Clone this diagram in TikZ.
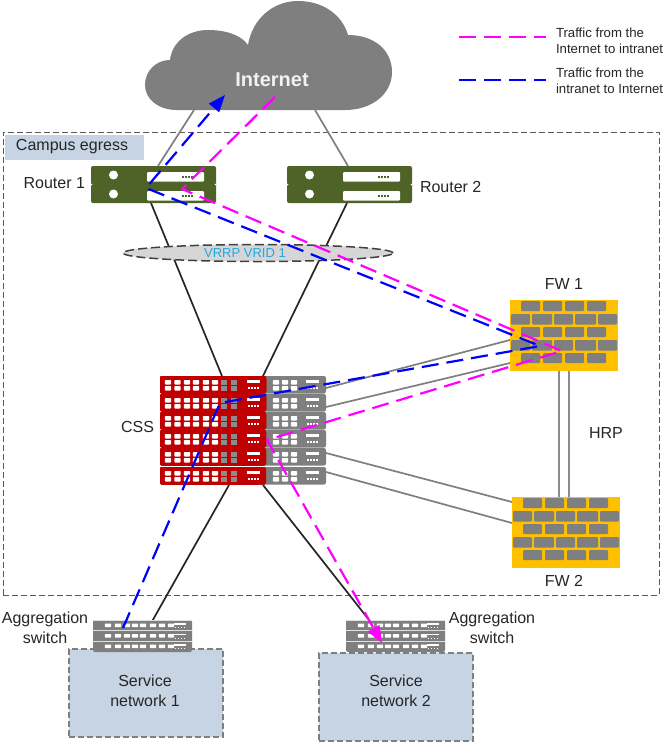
\documentclass[tikz,border=0pt]{standalone}
\usepackage{fontspec}
\setmainfont{Liberation Sans}
\usetikzlibrary{arrows.meta,shapes.geometric}
\definecolor{cloudgray}{HTML}{7F7F7F}
\definecolor{routergreen}{HTML}{4F6228}
\definecolor{cssred}{HTML}{C00000}
\definecolor{fwyellow}{HTML}{FFC000}
\definecolor{areablue}{HTML}{C6D4E4}
\definecolor{vrrpblue}{HTML}{1FA9E1}
\definecolor{trafficin}{HTML}{FF00FF}
\definecolor{trafficout}{HTML}{0000FF}
\definecolor{linedark}{HTML}{262626}
\tikzset{
  every node/.style={inner sep=0pt,outer sep=0pt},
  label14/.style={font=\fontsize{16}{19.5}\selectfont,align=center,text=black!85},
  legendtext/.style={font=\fontsize{13.2}{16}\selectfont,align=left,anchor=west,text=black!85},
  graylink/.style={draw=cloudgray,line width=1.7pt},
  darklink/.style={draw=linedark,line width=1.7pt},
  areabox/.style={draw=cloudgray,dash pattern=on 6pt off 3pt,line width=1.6pt,fill=areablue},
  innet/.style={draw=trafficin,line width=2.2pt,dash pattern=on 17pt off 8pt},
  outnet/.style={draw=trafficout,line width=2.2pt,dash pattern=on 17pt off 8pt},
  bighead/.style={-{Triangle[length=17pt,width=13pt]}},
  brick/.style={fill=cloudgray,rounded corners=1pt},
}
% Two-unit router chassis; #1 node name, #2 left edge, #3 top edge
\newcommand{\RouterBox}[3]{
  \node[rectangle,fill=routergreen,rounded corners=2pt,minimum width=125pt,minimum height=37pt,anchor=north west] (#1) at (#2,#3) {};
  \begin{scope}[shift={(#2,#3)}]
    \fill[white] (0,17.5) -- (1.5,18.5) -- (0,19.5) -- cycle;
    \fill[white] (125,17.5) -- (123.5,18.5) -- (125,19.5) -- cycle;
    \foreach \yy in {0,19}{
      \fill[white] (22.5,9+\yy) circle (4.5pt);
      \fill[white,rounded corners=1pt] (56,6+\yy) rectangle (113,15.5+\yy);
      \foreach \xx in {91,94,97,100}
        \fill[routergreen] (\xx,10+\yy) rectangle +(2,2);
    }
  \end{scope}
}
% One row of a stacking switch; #1 left edge, #2 top edge, #3 row colour, #4 width
\newcommand{\CssRow}[4]{
  \begin{scope}[shift={(#1,#2)}]
    \fill[#3,rounded corners=2pt] (0,0) rectangle (#4,17.5);
    \foreach \xx in {8,17.5,27,36,46,55}{
      \fill[white,rounded corners=0.8pt] (\xx-3.2,4) rectangle (\xx+3.2,8.5);
      \fill[white,rounded corners=0.8pt] (\xx-3.2,10) rectangle (\xx+3.2,14.5);
    }
    \foreach \xx in {64,74}{
      \fill[cloudgray!90!white] (\xx-3,4) rectangle (\xx+3,8.5);
      \fill[cloudgray!90!white] (\xx-3,10) rectangle (\xx+3,14.5);
    }
    \fill[white] (87,4) rectangle (100,7);
    \foreach \xx in {88,91,94,97}
      \fill[white] (\xx,11) rectangle +(1.8,1.8);
  \end{scope}
}
% Gray half of a stacking switch row; #1 left edge, #2 top edge
\newcommand{\CssBack}[2]{
  \begin{scope}[shift={(#1,#2)}]
    \fill[cloudgray,rounded corners=2pt] (-10,0) rectangle (60,17.5);
    \foreach \xx in {10,19,28}{
      \fill[white,rounded corners=0.8pt] (\xx-3.2,4) rectangle (\xx+3.2,8.5);
      \fill[white,rounded corners=0.8pt] (\xx-3.2,10) rectangle (\xx+3.2,14.5);
    }
    \fill[white] (40,4) rectangle (53,7);
    \foreach \xx in {41,44,47,50}
      \fill[white] (\xx,11) rectangle +(1.8,1.8);
  \end{scope}
}
% Brick wall firewall; #1 node name, #2 left edge, #3 top edge
\newcommand{\FireWall}[3]{
  \node[rectangle,fill=fwyellow,minimum width=108pt,minimum height=71pt,anchor=north west] (#1) at (#2,#3) {};
  \begin{scope}[shift={(#2,#3)}]
    \foreach \yy in {1,27,53}
      \foreach \aa/\bb in {11/30,33/52,55/74,77/96}
        \fill[brick] (\aa,\yy) rectangle (\bb,\yy+10);
    \foreach \yy in {14,40}
      \foreach \aa/\bb in {1/20,22/42,44/63,65/86,88/107}
        \fill[brick] (\aa,\yy) rectangle (\bb,\yy+10.5);
  \end{scope}
}
% Three-row aggregation switch; #1 node name, #2 left edge, #3 top edge
\newcommand{\AggSwitch}[3]{
  \node[rectangle,fill=cloudgray,rounded corners=2pt,minimum width=99pt,minimum height=32pt,anchor=north west] (#1) at (#2,#3) {};
  \begin{scope}[shift={(#2,#3)}]
    \foreach \yy in {0,10.5,21}{
      \draw[white!75!cloudgray,line width=0.4pt] (0,\yy) -- (99,\yy);
      \foreach \xx in {15,25,34,42,50,60,69,78}
        \fill[white,rounded corners=0.6pt] (\xx-3.2,\yy+3.5) rectangle (\xx+3.2,\yy+7);
      \fill[white] (81,\yy+3) rectangle (93,\yy+4.5);
      \foreach \xx in {82,85,88,91}
        \fill[white] (\xx,\yy+7) rectangle +(1.4,1.4);
    }
  \end{scope}
}
\begin{document}
\begin{tikzpicture}[x=1pt,y=-1pt]
\useasboundingbox (0,0) rectangle (665,742);
\fill[white] (0,0) rectangle (665,742);

% attachment points on the devices
\coordinate (cloudl) at (194,110);
\coordinate (cloudr) at (315,110);
\coordinate (r1n) at (158,166);
\coordinate (r2n) at (348,166);
\coordinate (r1s) at (151,203);
\coordinate (r2s) at (347,203);
\coordinate (cssnl) at (222,376);
\coordinate (cssnr) at (263,376);
\coordinate (cssel1) at (326,388);
\coordinate (cssel2) at (326,407);
\coordinate (cssel3) at (326,453);
\coordinate (cssel4) at (326,472);
\coordinate (f1w1) at (510,340);
\coordinate (f1w2) at (510,363);
\coordinate (f2w1) at (512,502);
\coordinate (f2w2) at (512,523);
\coordinate (f1s1) at (559,371);
\coordinate (f1s2) at (569,371);
\coordinate (f2n1) at (559,497);
\coordinate (f2n2) at (569,497);
\coordinate (csssl) at (229,485);
\coordinate (csssr) at (263,485);
\coordinate (ag1n) at (150,625);
\coordinate (ag2n) at (373,625);

% traffic waypoints
\coordinate (bstart) at (123,628);
\coordinate (bbend) at (220,403);
\coordinate (bfw) at (540,346);
\coordinate (brouter) at (146,188);
\coordinate (btip) at (225,95);
\coordinate (mstart) at (275,97);
\coordinate (mrouter) at (182,189);
\coordinate (mfw) at (562,351);
\coordinate (mcss) at (267,440);
\coordinate (mtip) at (382,643);

% campus area
\node[rectangle,draw=black!65,dash pattern=on 6pt off 3pt,line width=0.9pt,minimum width=656pt,minimum height=463pt,anchor=north west] (campus) at (3,132) {};
\node[rectangle,fill=areablue,minimum width=139pt,minimum height=25pt,anchor=north west] (campuslabel) at (5,135) {};
\node[label14,anchor=west] (campustext) at (16,147) {Campus egress};

% uplinks to the cloud
\draw[graylink] (cloudl) -- (r1n);
\draw[graylink] (cloudr) -- (r2n);

% Internet cloud
\path[fill=cloudgray] (177,110)
  .. controls (158,110) and (145,99) .. (145,85)
  .. controls (145,71) and (156,60) .. (170,60)
  .. controls (172,42) and (188,30) .. (208,30)
  .. controls (226,30) and (241,35) .. (248,45)
  .. controls (252,20) and (272,1) .. (298,1)
  .. controls (322,1) and (342,14) .. (348,35)
  .. controls (374,35) and (392,50) .. (392,72)
  .. controls (392,94) and (372,110) .. (345,110) -- cycle;
\node[font=\fontsize{20}{22}\bfseries\selectfont,text=white!95!black] (internet) at (272,80) {Internet};

% links from routers to the core switch
\draw[darklink] (r1s) -- (cssnl);
\draw[darklink] (r2s) -- (cssnr);
\draw[darklink] (csssl) -- (ag1n);
\draw[darklink] (csssr) -- (ag2n);

% routers
\RouterBox{r1}{91}{166}
\RouterBox{r2}{287}{166}
\node[label14,anchor=east] (r1label) at (85,183) {Router 1};
\node[label14,anchor=west] (r2label) at (420,187) {Router 2};

% VRRP group
\node[ellipse,draw=black!75,fill=black!16,dash pattern=on 9pt off 4pt,line width=1.5pt,minimum width=270pt,minimum height=17pt] (vrrp) at (258,253) {};
\node[font=\fontsize{13}{15}\selectfont,text=vrrpblue] (vrrptext) at (245,253.5) {VRRP VRID 1};

% core switch stack
\foreach \yy in {376,394,412,430,448,467}
  \CssBack{266}{\yy}
\foreach \yy in {376,394,412,430,448,467}
  \CssRow{160}{\yy}{cssred}{106}
\node[rectangle,minimum width=166pt,minimum height=109pt,anchor=north west] (css) at (160,376) {};
\node[label14,anchor=east] (csslabel) at (154,427) {CSS};

% firewall links
\draw[graylink] (cssel1) -- (f1w1);
\draw[graylink] (cssel2) -- (f1w2);
\draw[graylink] (cssel3) -- (f2w1);
\draw[graylink] (cssel4) -- (f2w2);
\draw[draw=black!45,line width=1.8pt] (f1s1) -- (f2n1);
\draw[draw=black!45,line width=1.8pt] (f1s2) -- (f2n2);

% firewalls
\FireWall{fw1}{510}{300}
\FireWall{fw2}{512}{497}
\node[label14] (fw1label) at (564,284) {FW 1};
\node[label14] (fw2label) at (564,581) {FW 2};
\node[label14] (hrplabel) at (606,433) {HRP};

% service networks and their switches
\node[rectangle,areabox,minimum width=154pt,minimum height=88pt,anchor=north west] (sn1) at (69,649) {};
\node[rectangle,areabox,minimum width=154pt,minimum height=88pt,anchor=north west] (sn2) at (319,653) {};
\AggSwitch{ag1}{93}{620}
\AggSwitch{ag2}{346}{620}
\node[label14] (sn1text) at (145,691) {Service\\network 1};
\node[label14] (sn2text) at (396,691) {Service\\network 2};
\node[label14] (ag1label) at (45,628) {Aggregation\\switch};
\node[label14] (ag2label) at (492,628) {Aggregation\\switch};

% traffic paths
\draw[outnet,bighead,line join=round] (bstart) -- (bbend) -- (bfw) -- (brouter) -- (btip);
\draw[innet,bighead,line join=round] (mstart) -- (mrouter) -- (mfw) -- (mcss) -- (mtip);

% legend
\coordinate (la) at (459,37);
\coordinate (lb) at (546,37);
\coordinate (lc) at (459,80);
\coordinate (ld) at (546,80);
\draw[innet] (la) -- (lb);
\draw[outnet] (lc) -- (ld);
\node[legendtext] (legendin) at (556,41) {Traffic from the\\Internet to intranet};
\node[legendtext] (legendout) at (556,81) {Traffic from the\\intranet to Internet};
\end{tikzpicture}
\end{document}
